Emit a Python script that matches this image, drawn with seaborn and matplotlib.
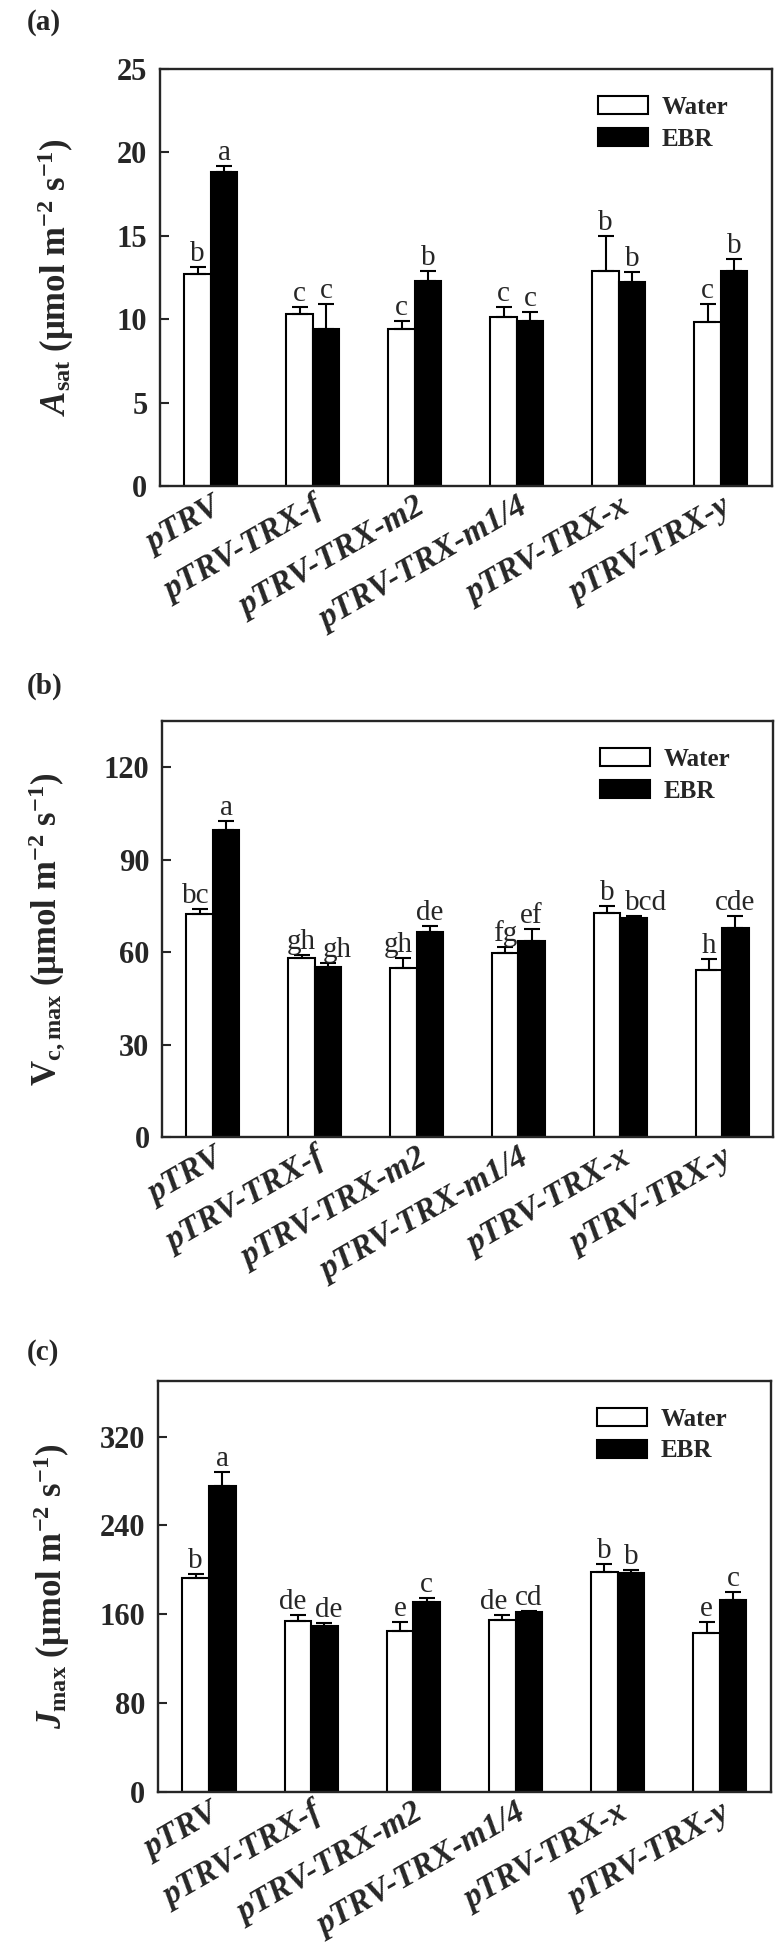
import numpy as np
import pandas as pd
import matplotlib
matplotlib.use('Agg')
import matplotlib.pyplot as plt
import seaborn as sns
from matplotlib.patches import Patch

# %%
groups = ['pTRV', 'pTRV-TRX-f', 'pTRV-TRX-m2', 'pTRV-TRX-m1/4', 'pTRV-TRX-x', 'pTRV-TRX-y']
treatments = ['Water', 'EBR']

asat_water = [12.7, 10.3, 9.4, 10.1, 12.9, 9.8]
asat_water_se = [0.4, 0.4, 0.5, 0.6, 2.1, 1.1]
asat_ebr = [18.8, 9.4, 12.3, 9.9, 12.2, 12.9]
asat_ebr_se = [0.4, 1.5, 0.6, 0.55, 0.65, 0.7]
asat_water_let = ['b', 'c', 'c', 'c', 'b', 'c']
asat_ebr_let = ['a', 'c', 'b', 'c', 'b', 'b']

vcmax_water = [72.3, 58.2, 54.9, 59.6, 72.8, 54.3]
vcmax_water_se = [1.6, 1.0, 3.3, 2.1, 2.2, 3.5]
vcmax_ebr = [99.7, 55.2, 66.5, 63.6, 71.2, 67.7]
vcmax_ebr_se = [3.0, 1.3, 2.0, 4.0, 0.4, 4.0]
vcmax_water_let = ['bc', 'gh', 'gh', 'fg', 'b', 'h']
vcmax_ebr_let = ['a', 'gh', 'de', 'ef', 'bcd', 'cde']

jmax_water = [192.4, 154.1, 144.6, 154.7, 198.5, 143.3]
jmax_water_se = [4.0, 5.3, 8.6, 4.7, 7.1, 9.9]
jmax_ebr = [275.6, 149.5, 171.1, 162.1, 197.0, 173.2]
jmax_ebr_se = [12.3, 2.8, 3.7, 1.3, 3.1, 6.8]
jmax_water_let = ['b', 'de', 'e', 'de', 'b', 'e']
jmax_ebr_let = ['a', 'de', 'c', 'cd', 'b', 'c']

# %%
sns.set_style('ticks')
plt.rcParams['font.family'] = ['Liberation Serif', 'DejaVu Serif']
plt.rcParams['mathtext.fontset'] = 'custom'
plt.rcParams['mathtext.rm'] = 'Liberation Serif:bold'
plt.rcParams['mathtext.it'] = 'Liberation Serif:italic:bold'
plt.rcParams['mathtext.bf'] = 'Liberation Serif:bold'
plt.rcParams['mathtext.bfit'] = 'Liberation Serif:italic:bold'

unit = ' (μmol m$^{\\mathbf{-2}}$ s$^{\\mathbf{-1}}$)'


def panel(ax, water, water_se, ebr, ebr_se, wl, el, ylabel, ylim, yticks,
          label_x, nudge=None):
    nudge = nudge or {}
    df = pd.DataFrame({'group': groups * 2,
                       'treatment': ['Water'] * 6 + ['EBR'] * 6,
                       'value': water + ebr})
    sns.barplot(data=df, x='group', y='value', hue='treatment', hue_order=treatments,
                palette={'Water': 'white', 'EBR': 'black'}, saturation=1,
                edgecolor='black', linewidth=1.5, width=0.52, gap=0,
                errorbar=None, legend=False, ax=ax)
    for k, (cont, se, lets) in enumerate(zip(ax.containers, [water_se, ebr_se], [wl, el])):
        for i, (bar, s, l) in enumerate(zip(cont, se, lets)):
            xc = bar.get_x() + bar.get_width() / 2
            h = bar.get_height()
            ax.errorbar(xc, h, yerr=[[0], [s]], fmt='none', ecolor='black',
                        elinewidth=1.5, capsize=6, capthick=1.5)
            ax.annotate(l, (xc, h + s), xytext=(nudge.get((k, i), 0), 0),
                        textcoords='offset points',
                        ha='center', va='bottom', fontsize=21)
    ax.set_ylim(*ylim)
    ax.set_yticks(yticks)
    ax.set_xlim(-0.5, 5.5)
    ax.set_xlabel('')
    ax.set_ylabel(ylabel, fontsize=25, fontweight='bold')
    ax.yaxis.set_label_coords(label_x, 0.5)
    ax.set_xticks(range(6))
    ax.set_xticklabels(groups, rotation=30, ha='right', rotation_mode='anchor',
                       fontstyle='italic', fontweight='bold', fontsize=24)
    for t in ax.get_yticklabels():
        t.set_fontweight('bold')
        t.set_fontsize(22)
    ax.tick_params(axis='y', direction='in', length=6.5, width=1.5, pad=9)
    ax.tick_params(axis='x', length=0, pad=4)
    for sp in ax.spines.values():
        sp.set_visible(True)
        sp.set_linewidth(1.7)
    handles = [Patch(facecolor='white', edgecolor='black', linewidth=1.5, label='Water'),
               Patch(facecolor='black', edgecolor='black', linewidth=1.5, label='EBR')]
    ax.legend(handles=handles, loc='upper left', bbox_to_anchor=(0.716, 0.935),
              frameon=False, borderaxespad=0, borderpad=0, handlelength=2.0,
              handleheight=0.75, handletextpad=0.55, labelspacing=0.35,
              prop={'family': 'Liberation Serif', 'weight': 'bold', 'size': 18})


fig = plt.figure(figsize=(7.77, 19.47), dpi=100)
ax1 = fig.add_axes([0.2059, 0.7504, 0.7876, 0.2142])
ax2 = fig.add_axes([0.2085, 0.4160, 0.7864, 0.2137])
ax3 = fig.add_axes([0.2033, 0.0796, 0.7889, 0.2111])

panel(ax1, asat_water, asat_water_se, asat_ebr, asat_ebr_se, asat_water_let, asat_ebr_let,
      r'$\mathbfit{A}_{\mathbf{sat}}$' + unit, (0, 25), [0, 5, 10, 15, 20, 25], -0.137)
panel(ax2, vcmax_water, vcmax_water_se, vcmax_ebr, vcmax_ebr_se, vcmax_water_let, vcmax_ebr_let,
      r'$\mathbf{V}_{\mathbf{c,max}}$' + unit, (0, 135), [0, 30, 60, 90, 120], -0.154,
      nudge={(0, 2): -4, (1, 1): 7, (1, 4): 9, (0, 0): -3})
panel(ax3, jmax_water, jmax_water_se, jmax_ebr, jmax_ebr_se, jmax_water_let, jmax_ebr_let,
      r'$\mathbfit{J}_{\mathbf{max}}$' + unit, (0, 370), [0, 80, 160, 240, 320], -0.14,
      nudge={(0, 1): -4, (0, 3): -6, (1, 1): 3})

for lab, y in zip(['(a)', '(b)', '(c)'], [23, 686, 1352]):
    fig.text(0.034, 1 - y / 1947, lab, fontsize=21, fontweight='bold', va='center', ha='left')

fig.savefig('out.png', dpi=100)
